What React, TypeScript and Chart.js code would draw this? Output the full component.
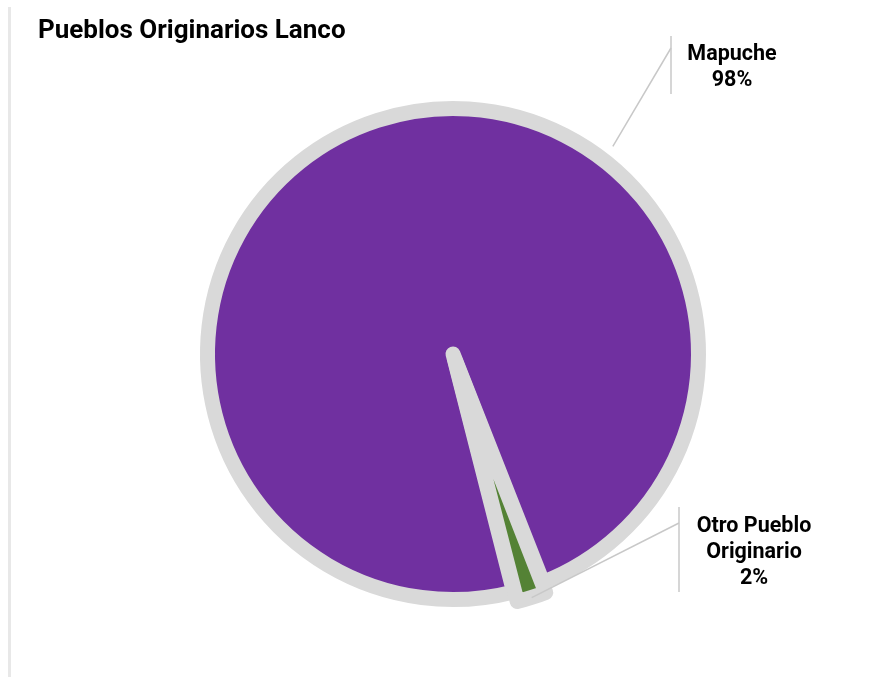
import React, { useEffect, useRef } from "react";
import { Chart, registerables } from "chart.js";

Chart.register(...registerables);

const title = "Pueblos Originarios Lanco";
const categories = ["Mapuche", "Otro Pueblo Originario"];
const values = [98, 2];
const percentLabels = ["98%", "2%"];
const labelLines = [["Mapuche"], ["Otro Pueblo", "Originario"]];
const sliceColors = ["#7030a0", "#548235"];
const sliceOffsets = [0, 22];

// label layout (relative to the pie centre), not data
const labelLayout = [
  { angle: 37.6, gap: 9, lineX: 218, lineTop: -318, lineBottom: -260, elbowY: -306, textDx: 61 },
  { angle: 162.1, gap: 3, lineX: 226, lineTop: 153, lineBottom: 238, elbowY: 169, textDx: 75 },
];

const FONT = "Roboto, 'Noto Sans', sans-serif";

const overlayPlugin = {
  id: "overlay",
  afterDraw(chart: any) {
    const ctx: CanvasRenderingContext2D = chart.ctx;
    const meta = chart.getDatasetMeta(0);
    const arc: any = meta.data[0];
    const cx = arc.x;
    const cy = arc.y;
    const bw = 15;
    const R = arc.outerRadius + bw / 2;
    ctx.save();
    // title
    ctx.fillStyle = "#000";
    ctx.font = `bold 26px ${FONT}`;
    ctx.textAlign = "left";
    ctx.textBaseline = "alphabetic";
    ctx.fillText(title, 38, 37.5);

    labelLayout.forEach((L, i) => {
      const a = ((L.angle - 90) * Math.PI) / 180;
      const sx = cx + Math.cos(a) * (R + L.gap);
      const sy = cy + Math.sin(a) * (R + L.gap);
      const lx = cx + L.lineX;
      ctx.strokeStyle = "#c8c8c8";
      ctx.lineWidth = 1.5;
      ctx.beginPath();
      ctx.moveTo(sx, sy);
      ctx.lineTo(lx, cy + L.elbowY);
      ctx.stroke();
      ctx.beginPath();
      ctx.moveTo(lx, cy + L.lineTop);
      ctx.lineTo(lx, cy + L.lineBottom);
      ctx.stroke();

      const lines = [...labelLines[i], percentLabels[i]];
      const lh = 26;
      const mid = cy + (L.lineTop + L.lineBottom) / 2;
      const first = mid - ((lines.length - 1) / 2) * lh + 8;
      ctx.fillStyle = "#000";
      ctx.font = `bold 21.5px ${FONT}`;
      ctx.textAlign = "center";
      lines.forEach((t, k) => {
        ctx.fillText(t, lx + L.textDx, first + k * lh);
      });
    });
    ctx.restore();
  },
};

export default function App() {
  const ref = useRef<HTMLCanvasElement | null>(null);
  useEffect(() => {
    if (!ref.current) return;
    const chart = new Chart(ref.current, {
      type: "pie",
      data: {
        labels: categories,
        datasets: [
          {
            data: values,
            backgroundColor: sliceColors,
            borderColor: "#d9d9d9",
            borderWidth: 15,
            borderJoinStyle: "round",
            offset: sliceOffsets,
            hoverOffset: 0,
          } as any,
        ],
      },
      options: {
        responsive: false,
        animation: false,
        radius: 245.5,
        rotation: 165.7,
        layout: { padding: { left: 16, right: 0, top: 31, bottom: 0 } },
        plugins: {
          legend: { display: false },
          tooltip: { enabled: false },
          title: { display: false },
        },
      } as any,
      plugins: [overlayPlugin],
    });
    return () => chart.destroy();
  }, []);

  return (
    <div style={{ position: "absolute", left: 0, top: 0, width: 890, height: 677, background: "#fff" }}>
      <div style={{ position: "absolute", left: 8, top: 7, width: 3, height: 670, background: "#e8e8e8" }} />
      <canvas ref={ref} width={890} height={677} style={{ position: "absolute", left: 0, top: 0, width: 890, height: 677 }} />
    </div>
  );
}
